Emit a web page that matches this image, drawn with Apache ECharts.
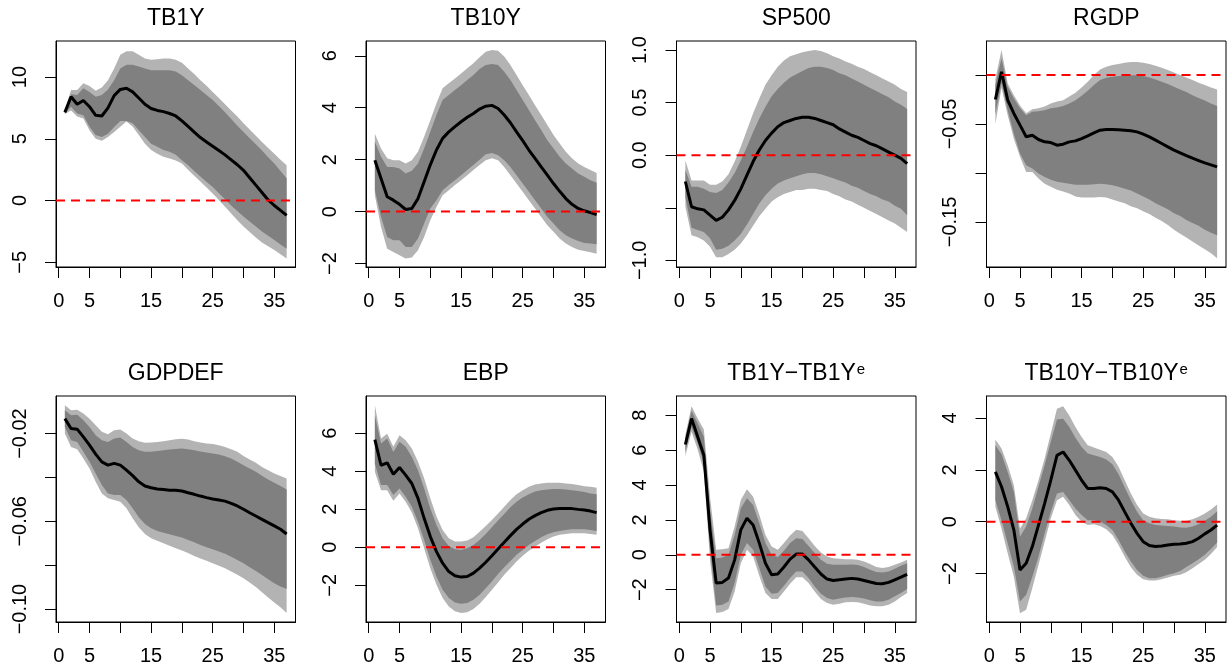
<!DOCTYPE html>
<html><head><meta charset="utf-8">
<script src="https://cdn.jsdelivr.net/npm/echarts@6/dist/echarts.min.js"></script>
<style>html,body{margin:0;padding:0;background:#fff}#c{width:1227px;height:669px}</style>
</head><body><div id="c"></div>
<script>
// ---------- data ----------
const horizons = [1,2,3,4,5,6,7,8,9,10,11,12,13,14,15,16,17,18,19,20,21,22,23,24,25,26,27,28,29,30,31,32,33,34,35,36,37];
const panelNames = ['TB1Y','TB10Y','SP500','RGDP','GDPDEF','EBP','TB1Y\u2212TB1Y','TB10Y\u2212TB10Y'];
const panelSup = ['','','','','','','e','e'];
const xTickValues = [0,5,10,15,20,25,30,35];
const xTickLabels = [0,5,15,25,35];

const yTickValues = [
  [-5,0,5,10],
  [-2,0,2,4,6],
  [-1,-0.5,0,0.5,1],
  [-0.15,-0.1,-0.05,0],
  [-0.1,-0.08,-0.06,-0.04,-0.02],
  [-2,0,2,4,6],
  [-2,0,2,4,6,8],
  [-2,0,2,4]
];
const yTickLabels = [
  ['\u22125','0','5','10'],
  ['\u22122','0','2','4','6'],
  ['\u22121.0','','0.0','0.5','1.0'],
  ['\u22120.15','','\u22120.05',''],
  ['\u22120.10','','\u22120.06','','\u22120.02'],
  ['\u22122','0','2','4','6'],
  ['\u22122','0','2','4','6','8'],
  ['\u22122','0','2','4']
];

// TB1Y
const tb1y_med  = [7.14,8.4,7.8,8.1,7.6,6.9,6.85,7.5,8.5,9.0,9.1,8.8,8.3,7.8,7.45,7.3,7.2,7.05,6.85,6.45,6.0,5.55,5.1,4.75,4.4,4.05,3.7,3.3,2.9,2.45,1.85,1.25,0.65,0.05,-0.4,-0.8,-1.2];
const tb1y_hi90 = [7.3,8.95,8.95,9.5,9.27,8.9,9.15,9.75,10.7,11.8,12.1,12.1,11.8,11.5,11.4,11.45,11.5,11.5,11.4,11.15,10.7,10.25,9.75,9.3,8.8,8.3,7.8,7.3,6.8,6.25,5.75,5.25,4.75,4.25,3.8,3.3,2.85];
const tb1y_hi68 = [7.25,8.6,8.55,9.1,8.8,8.4,8.55,9.0,9.75,10.7,11.0,11.0,10.85,10.7,10.55,10.55,10.55,10.55,10.45,10.15,9.75,9.35,8.95,8.55,8.15,7.65,7.15,6.6,6.05,5.55,5.05,4.55,4.05,3.5,3.0,2.4,1.8];
const tb1y_lo68 = [7.05,7.6,7.05,6.9,5.97,5.3,5.15,5.4,5.95,6.45,6.45,6.25,5.7,5.15,4.6,4.35,4.1,3.95,3.7,3.27,2.85,2.4,1.95,1.5,1.1,0.6,0.1,-0.4,-0.85,-1.3,-1.7,-2.1,-2.5,-2.85,-3.2,-3.55,-3.9];
const tb1y_lo90 = [7.0,7.3,6.8,6.65,5.7,5.0,4.85,5.15,5.55,5.97,6.4,6.0,5.3,4.6,4.1,3.8,3.55,3.4,3.25,3.0,2.5,2.0,1.55,1.05,0.57,0.05,-0.5,-1.05,-1.6,-2.1,-2.55,-3.0,-3.4,-3.7,-4.0,-4.35,-4.7];

// TB10Y
const tb10y_med  = [1.98,1.27,0.57,0.44,0.28,0.08,0.12,0.5,1.15,1.8,2.37,2.82,3.07,3.27,3.46,3.63,3.78,3.95,4.06,4.09,3.97,3.72,3.42,3.07,2.73,2.37,2.05,1.72,1.4,1.08,0.78,0.5,0.28,0.12,0.03,-0.04,-0.12];
const tb10y_hi90 = [3.0,2.43,2.05,1.98,1.98,1.85,1.98,2.3,2.88,3.52,4.17,4.75,4.94,5.13,5.32,5.52,5.71,5.94,6.16,6.22,6.19,5.97,5.65,5.26,4.87,4.49,4.1,3.72,3.33,2.95,2.62,2.3,2.05,1.85,1.72,1.6,1.49];
const tb10y_hi68 = [2.69,2.11,1.72,1.72,1.66,1.47,1.57,1.85,2.43,3.07,3.72,4.3,4.49,4.68,4.87,5.07,5.26,5.49,5.65,5.68,5.65,5.39,5.07,4.68,4.3,3.91,3.52,3.14,2.75,2.43,2.11,1.85,1.66,1.47,1.34,1.21,1.11];
const tb10y_lo68 = [0.82,-0.2,-0.98,-1.1,-1.1,-1.36,-1.36,-1.04,-0.46,0.12,0.44,0.82,1.02,1.21,1.4,1.6,1.79,2.0,2.21,2.26,2.17,1.98,1.72,1.4,1.08,0.76,0.44,0.12,-0.21,-0.46,-0.72,-0.91,-1.04,-1.13,-1.21,-1.23,-1.26];
const tb10y_lo90 = [0.63,-0.59,-1.43,-1.56,-1.68,-1.81,-1.77,-1.49,-0.98,-0.33,0.18,0.63,0.82,1.02,1.21,1.4,1.6,1.79,1.98,2.05,1.98,1.72,1.4,1.08,0.76,0.44,0.12,-0.21,-0.53,-0.78,-1.04,-1.23,-1.36,-1.47,-1.52,-1.57,-1.62];

// SP500
const sp500_med  = [-0.25,-0.49,-0.51,-0.52,-0.57,-0.62,-0.59,-0.52,-0.43,-0.32,-0.19,-0.06,0.05,0.14,0.21,0.27,0.31,0.33,0.35,0.36,0.36,0.35,0.33,0.31,0.29,0.25,0.22,0.19,0.17,0.14,0.11,0.09,0.06,0.03,0.0,-0.03,-0.08];
const sp500_hi90 = [-0.05,-0.24,-0.24,-0.24,-0.28,-0.28,-0.25,-0.18,-0.06,0.08,0.24,0.40,0.54,0.67,0.76,0.84,0.90,0.94,0.96,0.98,0.99,1.0,0.99,0.97,0.94,0.92,0.89,0.87,0.84,0.82,0.79,0.76,0.73,0.70,0.67,0.63,0.60];
const sp500_hi68 = [-0.14,-0.30,-0.30,-0.32,-0.35,-0.36,-0.33,-0.26,-0.17,-0.05,0.08,0.22,0.35,0.46,0.56,0.63,0.69,0.74,0.77,0.80,0.83,0.84,0.84,0.83,0.81,0.78,0.76,0.73,0.70,0.67,0.64,0.61,0.58,0.55,0.51,0.48,0.44];
const sp500_lo68 = [-0.40,-0.69,-0.71,-0.73,-0.79,-0.90,-0.89,-0.86,-0.81,-0.75,-0.66,-0.56,-0.46,-0.38,-0.32,-0.27,-0.24,-0.22,-0.20,-0.18,-0.17,-0.17,-0.18,-0.20,-0.22,-0.24,-0.26,-0.29,-0.31,-0.34,-0.37,-0.39,-0.42,-0.44,-0.48,-0.51,-0.57];
const sp500_lo90 = [-0.49,-0.76,-0.78,-0.81,-0.87,-0.97,-0.97,-0.94,-0.90,-0.84,-0.76,-0.67,-0.58,-0.51,-0.44,-0.40,-0.37,-0.35,-0.33,-0.33,-0.32,-0.32,-0.33,-0.34,-0.37,-0.39,-0.42,-0.44,-0.47,-0.50,-0.53,-0.56,-0.59,-0.62,-0.65,-0.69,-0.73];

// RGDP
const rgdp_med  = [-0.0249,0.0034,-0.0256,-0.0392,-0.0511,-0.063,-0.0614,-0.0658,-0.0682,-0.0689,-0.0716,-0.0706,-0.0682,-0.0672,-0.0648,-0.062,-0.059,-0.0563,-0.0556,-0.0556,-0.0559,-0.0563,-0.0569,-0.058,-0.0603,-0.0631,-0.0665,-0.0699,-0.0733,-0.0767,-0.0794,-0.0822,-0.0849,-0.0873,-0.0897,-0.0917,-0.0938];
const rgdp_hi90 = [-0.004,0.0256,-0.0085,-0.0205,-0.031,-0.039,-0.035,-0.034,-0.032,-0.029,-0.027,-0.0256,-0.022,-0.018,-0.0126,-0.0068,0.0,0.0058,0.0085,0.0102,0.0113,0.0126,0.0133,0.0133,0.0126,0.0113,0.0095,0.0075,0.0051,0.0027,0.0,-0.0024,-0.0051,-0.0078,-0.0102,-0.0126,-0.0147];
const rgdp_hi68 = [-0.010,0.017,-0.012,-0.024,-0.034,-0.041,-0.0375,-0.037,-0.0358,-0.034,-0.033,-0.0317,-0.029,-0.0256,-0.021,-0.016,-0.0102,-0.0051,-0.0027,-0.0017,-0.001,-0.0007,-0.0003,-0.0003,-0.001,-0.0024,-0.0044,-0.0068,-0.0092,-0.0119,-0.0147,-0.0174,-0.0205,-0.0235,-0.026,-0.029,-0.0317];
const rgdp_lo68 = [-0.040,-0.008,-0.0358,-0.060,-0.080,-0.092,-0.0955,-0.1006,-0.104,-0.107,-0.109,-0.110,-0.111,-0.112,-0.112,-0.112,-0.1115,-0.111,-0.1115,-0.1125,-0.114,-0.116,-0.118,-0.121,-0.124,-0.127,-0.131,-0.134,-0.137,-0.141,-0.144,-0.148,-0.151,-0.154,-0.158,-0.161,-0.1637];
const rgdp_lo90 = [-0.050,-0.013,-0.041,-0.065,-0.0835,-0.099,-0.099,-0.1057,-0.111,-0.114,-0.117,-0.119,-0.121,-0.124,-0.125,-0.125,-0.125,-0.1245,-0.125,-0.127,-0.129,-0.131,-0.134,-0.136,-0.139,-0.142,-0.1456,-0.149,-0.153,-0.158,-0.162,-0.166,-0.170,-0.174,-0.178,-0.182,-0.187];

// GDPDEF
const gdpdef_med  = [-0.0132,-0.0177,-0.018,-0.0215,-0.0253,-0.0294,-0.0329,-0.0344,-0.0336,-0.0344,-0.0367,-0.0392,-0.042,-0.0439,-0.0447,-0.0453,-0.0455,-0.0458,-0.0458,-0.0462,-0.047,-0.0477,-0.0485,-0.0492,-0.0498,-0.0503,-0.0508,-0.0518,-0.053,-0.0545,-0.0561,-0.0576,-0.0591,-0.0606,-0.0621,-0.0636,-0.0658];
const gdpdef_hi90 = [-0.0071,-0.0094,-0.0091,-0.0109,-0.0132,-0.0162,-0.0192,-0.0203,-0.0185,-0.0182,-0.02,-0.0223,-0.0235,-0.0242,-0.0241,-0.0238,-0.0235,-0.023,-0.0226,-0.0224,-0.0227,-0.0235,-0.0241,-0.0245,-0.0248,-0.0253,-0.0261,-0.0271,-0.0283,-0.0302,-0.0318,-0.0333,-0.0352,-0.0367,-0.0382,-0.0394,-0.0405];
const gdpdef_hi68 = [-0.0094,-0.0117,-0.0114,-0.0139,-0.017,-0.0208,-0.023,-0.0238,-0.0223,-0.0218,-0.0238,-0.0261,-0.0276,-0.0283,-0.0283,-0.028,-0.0276,-0.0273,-0.027,-0.0268,-0.0271,-0.0276,-0.0282,-0.0286,-0.0291,-0.0295,-0.0303,-0.0314,-0.0329,-0.0344,-0.0359,-0.0374,-0.0392,-0.0409,-0.0424,-0.0439,-0.0455];
const gdpdef_lo68 = [-0.017,-0.023,-0.0238,-0.0283,-0.0329,-0.0382,-0.0435,-0.0473,-0.048,-0.048,-0.0503,-0.0541,-0.0582,-0.0612,-0.0632,-0.0644,-0.0652,-0.0659,-0.0667,-0.0674,-0.0685,-0.0695,-0.0708,-0.0718,-0.0727,-0.0738,-0.0748,-0.0761,-0.0776,-0.0791,-0.0809,-0.0827,-0.0845,-0.0864,-0.0882,-0.0897,-0.0909];
const gdpdef_lo90 = [-0.02,-0.0261,-0.0271,-0.0314,-0.0359,-0.042,-0.0473,-0.0495,-0.0503,-0.0511,-0.0541,-0.0586,-0.0627,-0.0658,-0.0677,-0.0689,-0.07,-0.0711,-0.0723,-0.0733,-0.0745,-0.0758,-0.077,-0.078,-0.0791,-0.0803,-0.0814,-0.0829,-0.0844,-0.0859,-0.0879,-0.09,-0.0923,-0.0947,-0.097,-0.0992,-0.1018];

// EBP
const ebp_med  = [5.66,4.31,4.44,3.84,4.19,3.79,3.35,2.57,1.52,0.56,-0.23,-0.84,-1.28,-1.5,-1.57,-1.54,-1.36,-1.1,-0.79,-0.45,-0.09,0.26,0.61,0.94,1.22,1.47,1.66,1.82,1.94,2.01,2.04,2.04,2.03,1.99,1.96,1.9,1.82];
const ebp_hi90 = [7.46,5.71,5.97,5.28,5.89,5.62,5.19,4.49,3.62,2.57,1.61,0.91,0.47,0.3,0.3,0.35,0.52,0.82,1.12,1.43,1.78,2.13,2.48,2.78,3.0,3.18,3.3,3.35,3.39,3.39,3.39,3.35,3.32,3.27,3.21,3.18,3.13];
const ebp_hi68 = [6.93,5.45,5.71,5.01,5.54,5.28,4.75,4.05,3.09,2.04,1.17,0.47,0.07,-0.1,-0.14,-0.05,0.12,0.38,0.7,1.05,1.4,1.75,2.1,2.39,2.62,2.79,2.93,3.0,3.04,3.06,3.06,3.04,3.0,2.95,2.9,2.83,2.78];
const ebp_lo68 = [4.4,3.27,3.27,2.74,3.09,2.66,2.13,1.34,0.38,-0.66,-1.54,-2.24,-2.67,-2.9,-2.97,-2.93,-2.76,-2.5,-2.15,-1.8,-1.41,-1.05,-0.72,-0.4,-0.14,0.12,0.33,0.52,0.68,0.79,0.86,0.91,0.94,0.94,0.94,0.91,0.86];
const ebp_lo90 = [3.97,3.0,3.0,2.45,2.83,2.39,1.82,1.0,-0.05,-1.1,-1.97,-2.67,-3.11,-3.37,-3.46,-3.42,-3.25,-2.97,-2.62,-2.24,-1.85,-1.45,-1.1,-0.75,-0.45,-0.19,0.03,0.24,0.42,0.56,0.65,0.7,0.73,0.73,0.73,0.7,0.65];

// TB1Y - TB1Y^e
const tb1ye_med  = [6.32,7.81,6.76,5.71,1.43,-1.62,-1.58,-1.33,-0.29,1.43,2.1,1.71,0.67,-0.48,-1.14,-1.1,-0.7,-0.25,0.04,0.04,-0.29,-0.7,-1.1,-1.39,-1.47,-1.43,-1.39,-1.35,-1.39,-1.47,-1.56,-1.64,-1.66,-1.58,-1.43,-1.28,-1.12];
const tb1ye_hi90 = [6.86,8.51,7.81,7.18,3.33,0.29,0.32,0.38,1.62,3.14,3.75,3.33,2.29,1.14,0.48,0.29,0.67,1.1,1.43,1.37,0.95,0.51,0.13,-0.1,-0.19,-0.23,-0.25,-0.25,-0.29,-0.38,-0.53,-0.7,-0.76,-0.7,-0.57,-0.44,-0.29];
const tb1ye_hi68 = [6.67,8.25,7.52,6.76,2.57,-0.19,-0.15,0.0,1.14,2.67,3.24,2.86,1.81,0.67,0.0,-0.13,0.23,0.67,0.95,0.9,0.51,0.1,-0.29,-0.51,-0.57,-0.57,-0.57,-0.55,-0.59,-0.7,-0.86,-0.99,-1.01,-0.95,-0.8,-0.63,-0.48];
const tb1ye_lo68 = [5.9,7.33,6.38,5.24,0.29,-2.91,-2.86,-2.67,-1.62,0.0,0.67,0.29,-0.76,-1.81,-2.23,-2.19,-1.77,-1.33,-0.95,-0.95,-1.33,-1.81,-2.23,-2.48,-2.57,-2.51,-2.44,-2.42,-2.44,-2.51,-2.61,-2.67,-2.67,-2.57,-2.38,-2.19,-1.96];
const tb1ye_lo90 = [5.66,7.05,6.04,4.76,-0.29,-3.33,-3.28,-3.1,-2.1,-0.48,0.29,-0.1,-1.2,-2.19,-2.53,-2.53,-2.1,-1.66,-1.28,-1.28,-1.62,-2.1,-2.53,-2.76,-2.86,-2.8,-2.72,-2.7,-2.72,-2.8,-2.9,-2.95,-2.95,-2.86,-2.67,-2.42,-2.19];

// TB10Y - TB10Y^e
const tb10ye_med  = [1.92,1.35,0.58,-0.32,-1.86,-1.6,-0.96,-0.13,0.71,1.6,2.56,2.69,2.37,1.99,1.6,1.28,1.28,1.31,1.28,1.15,0.83,0.38,-0.06,-0.45,-0.77,-0.92,-0.96,-0.94,-0.9,-0.87,-0.86,-0.83,-0.77,-0.64,-0.47,-0.32,-0.13];
const tb10ye_hi90 = [3.17,2.82,2.18,1.41,-0.26,0.13,0.83,1.6,2.44,3.4,4.36,4.45,4.1,3.65,3.27,2.95,2.86,2.78,2.69,2.5,2.12,1.6,1.09,0.64,0.32,0.19,0.13,0.1,0.09,0.06,0.04,0.04,0.09,0.19,0.32,0.47,0.66];
const tb10ye_hi68 = [2.95,2.6,1.92,1.15,-0.58,-0.19,0.51,1.35,2.18,3.08,3.94,3.97,3.65,3.24,2.88,2.63,2.56,2.5,2.4,2.22,1.83,1.32,0.83,0.38,0.06,-0.06,-0.13,-0.15,-0.17,-0.19,-0.22,-0.23,-0.19,-0.09,0.04,0.19,0.4];
const tb10ye_lo68 = [0.83,0.06,-0.83,-1.73,-3.08,-2.82,-2.12,-1.35,-0.45,0.38,1.09,1.15,0.83,0.51,0.26,0.06,0.06,0.0,-0.13,-0.32,-0.71,-1.15,-1.54,-1.86,-2.09,-2.18,-2.18,-2.12,-2.05,-1.99,-1.9,-1.75,-1.6,-1.45,-1.28,-1.05,-0.8];
const tb10ye_lo90 = [0.58,-0.26,-1.22,-2.12,-3.53,-3.4,-2.56,-1.67,-0.77,0.13,0.83,0.96,0.64,0.26,0.0,-0.13,-0.1,-0.17,-0.29,-0.51,-0.9,-1.35,-1.76,-2.05,-2.22,-2.27,-2.27,-2.22,-2.15,-2.09,-2.05,-1.95,-1.8,-1.63,-1.47,-1.25,-0.98];

const panels = [
  [tb1y_med, tb1y_lo90, tb1y_lo68, tb1y_hi68, tb1y_hi90],
  [tb10y_med, tb10y_lo90, tb10y_lo68, tb10y_hi68, tb10y_hi90],
  [sp500_med, sp500_lo90, sp500_lo68, sp500_hi68, sp500_hi90],
  [rgdp_med, rgdp_lo90, rgdp_lo68, rgdp_hi68, rgdp_hi90],
  [gdpdef_med, gdpdef_lo90, gdpdef_lo68, gdpdef_hi68, gdpdef_hi90],
  [ebp_med, ebp_lo90, ebp_lo68, ebp_hi68, ebp_hi90],
  [tb1ye_med, tb1ye_lo90, tb1ye_lo68, tb1ye_hi68, tb1ye_hi90],
  [tb10ye_med, tb10ye_lo90, tb10ye_lo68, tb10ye_hi68, tb10ye_hi90]
];

// ---------- layout / style ----------
const FONT = '"Liberation Sans", Arial, Helvetica, sans-serif';
const LIGHT = '#b3b3b3', DARK = '#808080';
const yRange = [[-5.38,12.92],[-2.135,6.57],[-1.063,1.086],[-0.196,0.0348],[-0.1059,-0.00288],[-3.93,7.95],[-3.85,9.10],[-3.87,4.85]];
const xMin = -0.44, xMax = 38.44;
const colLeft = [56, 366, 676.5, 986.5], rowTop = [41, 396];
const GW = 239.5, GH = 226;
const titleY = [18.7, 374];

const grids = [], xAxes = [], yAxes = [], series = [], graphics = [];
const pair = (ys) => horizons.map((h, k) => [h, ys[k]]);

function bandSeries(i, upper, lower, color, z) {
  return {
    type: 'custom', xAxisIndex: i, yAxisIndex: i, silent: true, clip: true, z: z,
    data: horizons.map((h, k) => [h, upper[k], lower[k]]),
    encode: {x: 0, y: [1, 2]},
    renderItem: function (params, api) {
      if (params.dataIndex !== 0) return null;
      const pts = [];
      for (let k = 0; k < horizons.length; k++) pts.push(api.coord([horizons[k], upper[k]]));
      for (let k = horizons.length - 1; k >= 0; k--) pts.push(api.coord([horizons[k], lower[k]]));
      return {type: 'polygon', shape: {points: pts}, style: {fill: color, stroke: null}};
    }
  };
}

for (let i = 0; i < 8; i++) {
  const r = Math.floor(i / 4), c = i % 4;
  grids.push({left: colLeft[c], top: rowTop[r], width: GW, height: GH, show: true,
    borderColor: '#000', borderWidth: 1, backgroundColor: 'transparent'});
  xAxes.push({type: 'value', gridIndex: i, min: xMin, max: xMax,
    axisLine: {show: true, onZero: false, lineStyle: {color: '#000', width: 1}},
    axisTick: {show: true, inside: false, length: 11, customValues: xTickValues, lineStyle: {color: '#000', width: 1}},
    axisLabel: {show: true, customValues: xTickLabels, margin: 24, color: '#000', fontSize: 20, fontFamily: FONT},
    splitLine: {show: false}});
  const tv = yTickValues[i], tl = yTickLabels[i];
  yAxes.push({type: 'value', gridIndex: i, min: yRange[i][0], max: yRange[i][1],
    axisLine: {show: true, onZero: false, lineStyle: {color: '#000', width: 1}},
    axisTick: {show: true, inside: false, length: 11, customValues: tv, lineStyle: {color: '#000', width: 1}},
    axisLabel: {show: true, customValues: tv.filter((v, k) => tl[k] !== ''), rotate: 90, margin: 26,
      color: '#000', fontSize: 20, fontFamily: FONT,
      formatter: (v) => { let k = tv.findIndex(t => Math.abs(t - v) < 1e-9); return k >= 0 ? tl[k] : ''; }},
    splitLine: {show: false}});

  const [med, lo90, lo68, hi68, hi90] = panels[i];
  series.push(bandSeries(i, hi90, lo90, LIGHT, 2));
  series.push(bandSeries(i, hi68, lo68, DARK, 3));
  series.push({type: 'line', name: 'median', xAxisIndex: i, yAxisIndex: i, data: pair(med), symbol: 'none',
    silent: true, lineStyle: {color: '#000', width: 3}, z: 4});
  series.push({type: 'line', name: 'zero', xAxisIndex: i, yAxisIndex: i, data: [[xMin, 0], [xMax, 0]], symbol: 'none',
    silent: true, lineStyle: {color: '#ff0000', width: 2, type: [9, 6]}, z: 5});

  const cx = colLeft[c] + GW / 2;
  if (panelSup[i]) {
    graphics.push({type: 'text', x: cx, y: titleY[r], silent: true, style: {
      text: '{m|' + panelNames[i] + '}{s|' + panelSup[i] + '}', align: 'center', verticalAlign: 'middle',
      fill: '#000', fontSize: 23, fontFamily: FONT,
      rich: {m: {fontSize: 23, fontFamily: FONT, fill: '#000'},
             s: {fontSize: 15, fontFamily: FONT, fill: '#000', lineHeight: 18, verticalAlign: 'top', padding: [0, 0, 0, 1]}}}});
  } else {
    graphics.push({type: 'text', x: cx, y: titleY[r], silent: true, style: {
      text: panelNames[i], align: 'center', verticalAlign: 'middle', fill: '#000', fontSize: 23, fontFamily: FONT}});
  }
}

const chart = echarts.init(document.getElementById('c'), null, {renderer: 'canvas'});
chart.setOption({backgroundColor: '#fff', animation: false, grid: grids, xAxis: xAxes, yAxis: yAxes,
  series: series, graphic: graphics});
</script></body></html>
